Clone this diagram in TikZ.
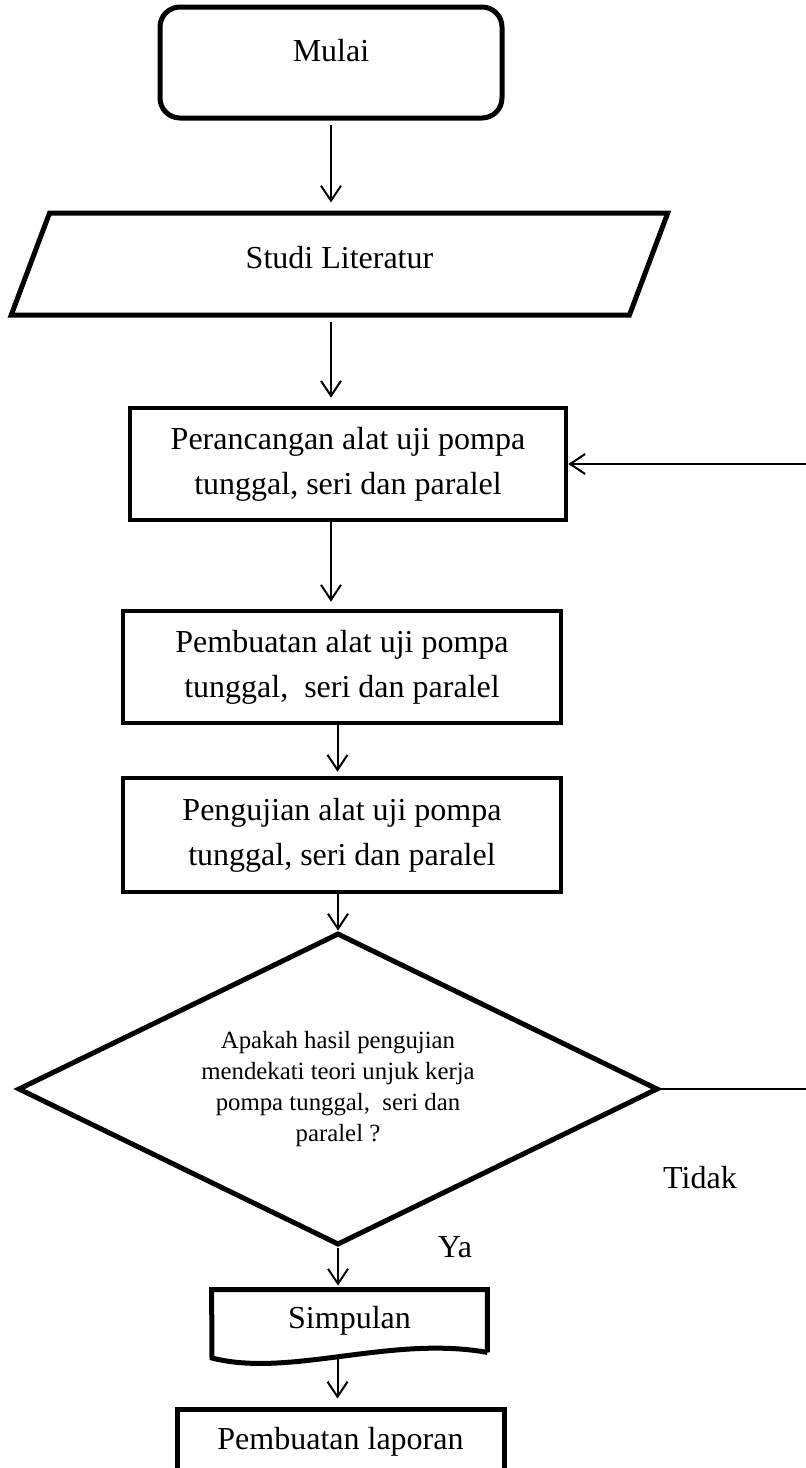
\documentclass[tikz,border=0pt]{standalone}
\usepackage{fontspec}
\setmainfont{Liberation Serif}
\usetikzlibrary{shapes.geometric,arrows.meta}

\begin{document}
\begin{tikzpicture}[x=0.5pt,y=-0.5pt,
  teks/.style={font=\fontsize{16}{22.5}\selectfont, align=center},
  kotak/.style={teks, draw, line width=2.3pt, minimum width=219pt, minimum height=56pt, inner sep=0pt},
  panah/.style={-{Straight Barb[length=7.5pt,width=10pt,line width=1pt]}, line width=1pt, shorten >=4pt}]

\useasboundingbox (0,0) rectangle (806,1468);
\fill[white] (0,0) rectangle (806,1468);

\node[teks, draw, line width=2.5pt, rounded corners=10pt, minimum width=171pt, minimum height=55.5pt, text depth=12pt] (mulai) at (331,62.5) {Mulai};
\node[teks, draw, line width=2.5pt, trapezium, trapezium left angle=75, trapezium right angle=105, trapezium stretches=true, minimum width=328.5pt, minimum height=51pt, text depth=7pt] (studi) at (339.5,264) {Studi Literatur};
\node[kotak, minimum width=218pt] (rancang) at (348,464) {Perancangan alat uji pompa\\ tunggal, seri dan paralel};
\node[kotak] (buat) at (342,667) {Pembuatan alat uji pompa\\ tunggal,~ seri dan paralel};
\node[kotak, minimum height=57pt] (uji) at (342,835) {Pengujian alat uji pompa\\ tunggal, seri dan paralel};
\node[draw, diamond, aspect=2.05, line width=2.5pt, minimum width=320pt, minimum height=156pt, inner sep=0pt, font=\fontsize{12.4}{15.5}\selectfont, align=center] (cek) at (338,1089) {Apakah hasil pengujian\\ mendekati teori unjuk kerja\\ pompa tunggal,~ seri dan\\ paralel ?};
\node[teks, minimum width=137.5pt, minimum height=31pt, inner sep=0pt] (simp) at (349.5,1321) {Simpulan};
\draw[line width=2.5pt] (simp.south east) -- (simp.north east) -- (simp.north west) -- (212,1358) .. controls (290,1378) and (390,1335) .. (simp.south east);
\node[teks, draw, line width=2.5pt, minimum width=163.5pt, minimum height=33pt] (lapor) at (340.5,1442) {Pembuatan laporan};

\node[teks] (tidak) at (700,1178) {Tidak};
\node[teks] (ya) at (455,1247) {Ya};

% alur utama
\coordinate (kolA) at (331,0);
\coordinate (kolB) at (337.5,0);
\draw[panah, shorten <=2pt] (mulai.south -| kolA) -- (studi.north -| kolA);
\draw[panah, shorten <=2pt] (studi.south -| kolA) -- (rancang.north -| kolA);
\draw[panah, shorten >=3.5pt] (rancang.south -| kolA) -- (buat.north -| kolA);
\draw[panah, shorten >=2pt] (buat.south -| kolB) -- (uji.north -| kolB);
\draw[panah, shorten >=0pt] (uji.south -| cek.north) -- (cek.north);
\draw[panah, shorten >=2pt] (cek.south) -- (cek.south |- simp.north);
\draw[panah, shorten <=3pt] (simp.south -| kolB) -- (lapor.north -| kolB);

% tidak: kembali ke perancangan
\coordinate (balikA) at (810,1089);
\coordinate (balikB) at (rancang.east -| balikA);
\draw[line width=1pt] (cek.east) -- (balikA);
\draw[panah, shorten >=0pt] (balikB) -- (rancang.east);

\end{tikzpicture}
\end{document}
